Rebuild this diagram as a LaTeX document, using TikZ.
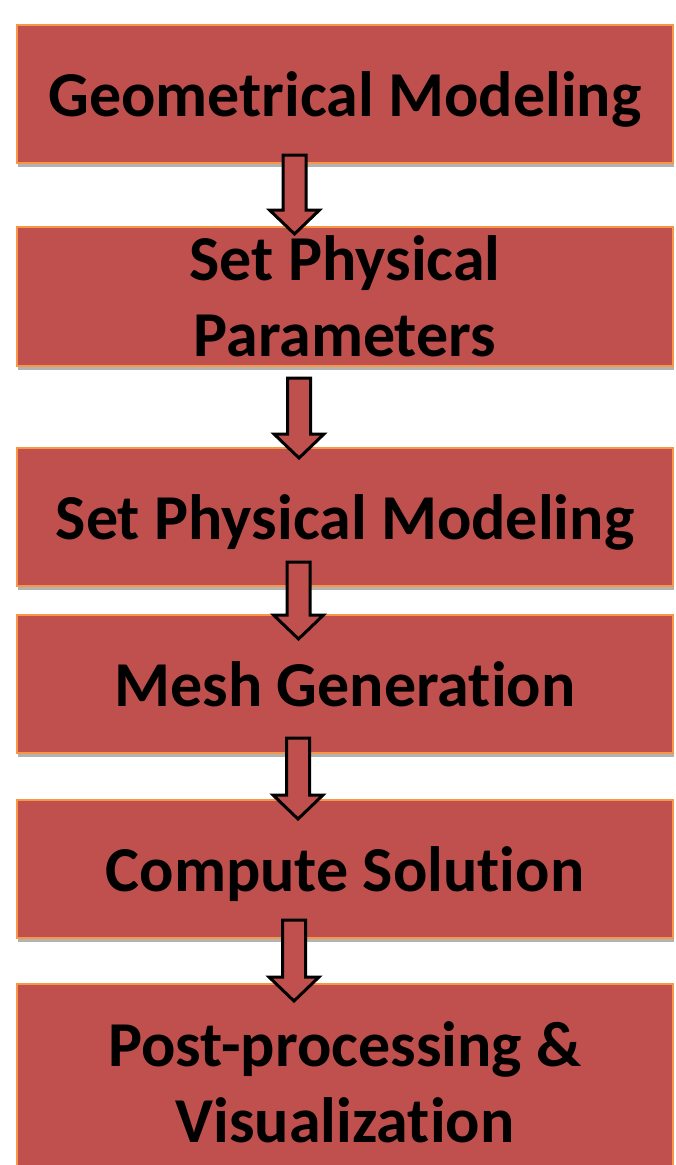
\documentclass[tikz,border=0pt]{standalone}
\usepackage{fontspec}
\setmainfont{Carlito}[Ligatures=NoCommon]
\usetikzlibrary{calc,shadows}
\definecolor{boxred}{RGB}{192,80,77}
\definecolor{boxorange}{RGB}{247,150,70}
\tikzset{
  stepbox/.style={draw=boxorange, line width=2pt, fill=boxred,
    minimum width=656pt, inner sep=0pt, align=center,
    font=\fontsize{64}{76}\selectfont\bfseries,
    drop shadow={shadow xshift=1pt, shadow yshift=-4pt, opacity=0.3, fill=black}},
  oneline/.style={text depth=0pt},
  fatarr/.style={draw=black, line width=3pt, fill=boxred, line join=miter}
}
% #1 from node, #2 to node, #3 x centre, #4 inset into #1, #5 inset into #2
\newcommand\fatarrow[5]{%
  \draw[fatarr] let \p1=(#1.south), \p2=(#2.north) in
    (#3-11.5pt,\y1+#4) -- (#3+11.5pt,\y1+#4) -- (#3+11.5pt,\y2-#5+24pt)
    -- (#3+25pt,\y2-#5+24pt) -- (#3,\y2-#5) -- (#3-25pt,\y2-#5+24pt)
    -- (#3-11.5pt,\y2-#5+24pt) -- cycle;}
\begin{document}
\begin{tikzpicture}[x=1pt,y=-1pt]
  \useasboundingbox (0,0) rectangle (676,1165);
  \clip (0,0) rectangle (676,1165);
  \fill[white] (0,0) rectangle (676,1165);
  \node[stepbox, oneline, minimum height=138pt] (b1) at (345,94) {Geometrical Modeling};
  \node[stepbox, minimum height=139pt] (b2) at (345,296.5) {Set Physical\\Parameters};
  \node[stepbox, oneline, minimum height=138pt] (b3) at (345,517) {Set Physical Modeling};
  \node[stepbox, oneline, minimum height=138pt] (b4) at (345,684) {Mesh Generation};
  \node[stepbox, oneline, minimum height=138pt] (b5) at (345,869) {Compute Solution};
  \node[stepbox, minimum height=196pt] (b6) at (345,1082) {Post-processing \&\\Visualization};
  \fatarrow{b1}{b2}{294.5pt}{9pt}{8pt}
  \fatarrow{b2}{b3}{299pt}{-11pt}{11pt}
  \fatarrow{b3}{b4}{298.5pt}{25pt}{25pt}
  \fatarrow{b4}{b5}{298pt}{16pt}{20pt}
  \fatarrow{b5}{b6}{294pt}{19pt}{18pt}
\end{tikzpicture}
\end{document}
